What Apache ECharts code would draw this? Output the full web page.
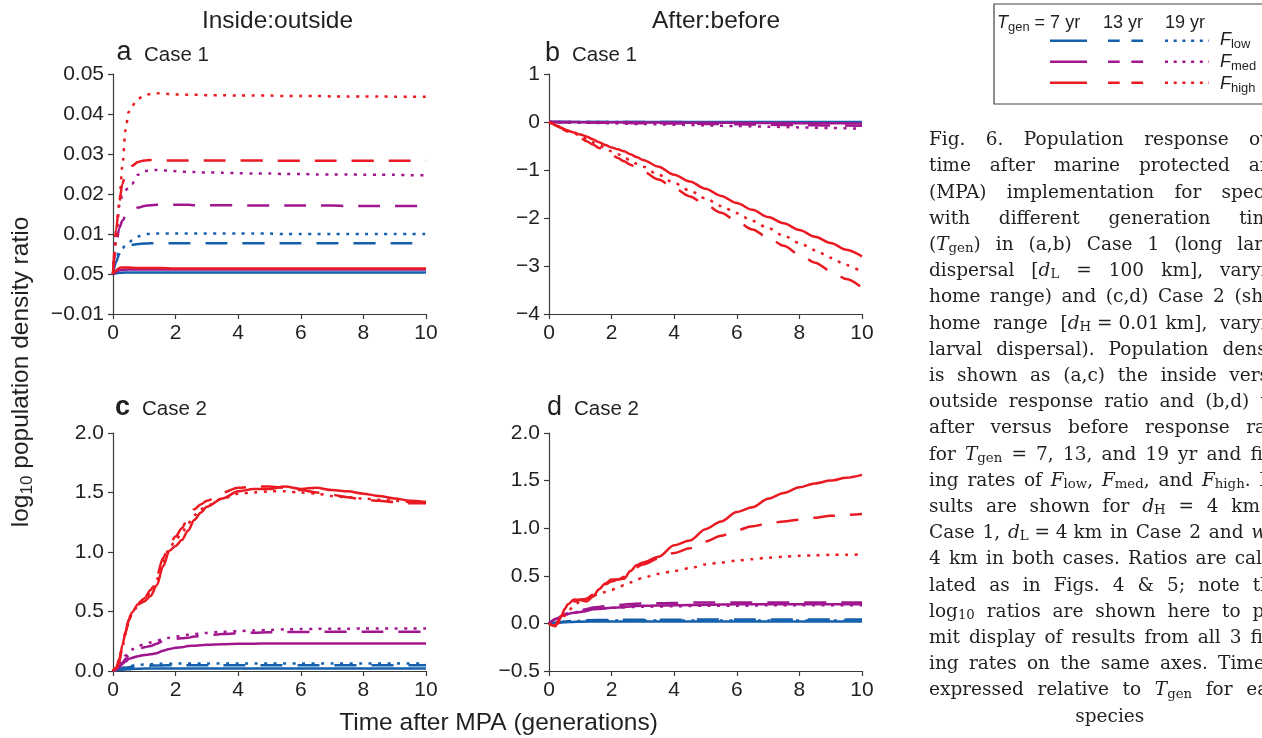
<!DOCTYPE html>
<html>
<head>
<meta charset="utf-8">
<script src="https://cdn.jsdelivr.net/npm/echarts@6/dist/echarts.min.js"></script>
<style>
  html, body { margin: 0; padding: 0; background: #ffffff; }
  #chart { width: 1262px; height: 738px; }
</style>
</head>
<body>
<div id="chart"></div>
<script>
// ---- time grids (generations after MPA) ----
const tFine = [0, 0.1, 0.2, 0.3, 0.4, 0.5, 0.6, 0.8, 1, 1.2, 1.4, 1.6, 1.8, 2, 2.2, 2.4, 2.6, 2.8, 3, 3.5, 4, 4.5, 5, 5.5, 6, 6.5, 7, 7.5, 8, 8.5, 9, 9.5, 10];
const tCoarse = [0, 0.25, 0.5, 0.75, 1, 1.5, 2, 3, 4, 5, 6, 7, 8, 9, 10];
const xTicks = ['0', '2', '4', '6', '8', '10'];

// ---- (a) Case 1, inside:outside ----
const aTickLabels = ['\u22120.01', '0.05', '0.01', '0.02', '0.03', '0.04', '0.05'];
const aLow7 = [0, 0.0003, 0.0004, 0.0004, 0.0004, 0.0004, 0.0004, 0.0004, 0.0004, 0.0004, 0.0004, 0.0004, 0.0004, 0.0004, 0.0004];
const aLow13 = [0, 0.003, 0.005, 0.006, 0.0067, 0.0071, 0.0073, 0.0075, 0.0076, 0.0077, 0.0077, 0.0077, 0.0077, 0.0077, 0.0077, 0.0077, 0.0077, 0.0077, 0.0077, 0.0077, 0.0077, 0.0077, 0.0077, 0.0077, 0.0077, 0.0077, 0.0077, 0.0077, 0.0077, 0.0077, 0.0077, 0.0077, 0.0077];
const aLow19 = [0, 0.004, 0.0055, 0.0064, 0.0072, 0.0078, 0.0084, 0.0094, 0.0099, 0.0101, 0.0101, 0.0101, 0.0101, 0.0101, 0.0101, 0.0101, 0.0101, 0.0101, 0.0101, 0.0101, 0.0101, 0.0101, 0.0101, 0.01, 0.01, 0.01, 0.01, 0.01, 0.01, 0.01, 0.01, 0.01, 0.01];
const aMed7 = [0, 0.001, 0.0011, 0.0011, 0.0011, 0.0011, 0.0011, 0.0011, 0.0011, 0.0011, 0.0011, 0.0011, 0.0011, 0.0011, 0.0011];
const aMed13 = [0, 0.007, 0.0115, 0.0133, 0.0145, 0.0153, 0.0158, 0.0166, 0.017, 0.0172, 0.0173, 0.0173, 0.0173, 0.0173, 0.0173, 0.0173, 0.0172, 0.0172, 0.0172, 0.0172, 0.0172, 0.0171, 0.0171, 0.0171, 0.0171, 0.0171, 0.0171, 0.017, 0.017, 0.017, 0.017, 0.017, 0.017];
const aMed19 = [0, 0.01, 0.017, 0.0195, 0.021, 0.0215, 0.0225, 0.0248, 0.0257, 0.026, 0.026, 0.0259, 0.0258, 0.0257, 0.0256, 0.0255, 0.0255, 0.0254, 0.0254, 0.0253, 0.0252, 0.0251, 0.0251, 0.025, 0.025, 0.0249, 0.0249, 0.0249, 0.0248, 0.0248, 0.0248, 0.0247, 0.0247];
const aHigh7 = [0, 0.0016, 0.0016, 0.0015, 0.0015, 0.0015, 0.0014, 0.0014, 0.0014, 0.0014, 0.0014, 0.0014, 0.0014, 0.0014, 0.0014];
const aHigh13 = [0, 0.011, 0.018, 0.0225, 0.025, 0.026, 0.027, 0.028, 0.0284, 0.0285, 0.0285, 0.0284, 0.0284, 0.0284, 0.0284, 0.0284, 0.0284, 0.0284, 0.0284, 0.0284, 0.0284, 0.0284, 0.0283, 0.0283, 0.0283, 0.0283, 0.0283, 0.0283, 0.0283, 0.0283, 0.0283, 0.0283, 0.0283];
const aHigh19 = [0, 0.008, 0.018, 0.027, 0.036, 0.0405, 0.042, 0.0438, 0.0447, 0.045, 0.0452, 0.0451, 0.045, 0.0449, 0.0449, 0.0448, 0.0448, 0.0448, 0.0447, 0.0447, 0.0446, 0.0446, 0.0446, 0.0445, 0.0445, 0.0445, 0.0444, 0.0444, 0.0444, 0.0444, 0.0443, 0.0443, 0.0443];

// ---- (b) Case 1, after:before ----
const bTickLabels = ['\u22124', '\u22123', '\u22122', '\u22121', '0', '1'];
const bLow7 = [0, 0, 0, 0, 0, 0, 0, 0, 0, 0, 0, 0, 0, 0, 0];
const bLow13 = [0, 0, 0, 0, -0.001, -0.001, -0.001, -0.002, -0.002, -0.003, -0.003, -0.004, -0.004, -0.005, -0.005];
const bLow19 = [0, 0, -0.001, -0.001, -0.001, -0.002, -0.002, -0.003, -0.004, -0.005, -0.006, -0.007, -0.008, -0.009, -0.01];
const bMed7 = [0, -0.001, -0.001, -0.002, -0.003, -0.004, -0.006, -0.009, -0.012, -0.015, -0.018, -0.021, -0.024, -0.027, -0.03];
const bMed13 = [0, -0.002, -0.004, -0.006, -0.008, -0.012, -0.016, -0.024, -0.032, -0.04, -0.048, -0.056, -0.064, -0.072, -0.08];
const bMed19 = [0, -0.004, -0.007, -0.011, -0.014, -0.021, -0.028, -0.042, -0.056, -0.07, -0.084, -0.098, -0.112, -0.126, -0.14];
const bHigh7 = [0, -0.03, -0.06, -0.09, -0.12, -0.15, -0.18, -0.22, -0.26, -0.30, -0.36, -0.42, -0.48, -0.53, -0.57, -0.61, -0.67, -0.73, -0.79, -0.93, -1.10, -1.24, -1.39, -1.54, -1.69, -1.83, -1.98, -2.11, -2.25, -2.39, -2.52, -2.66, -2.80];
const bHigh13 = [0, -0.03, -0.07, -0.10, -0.13, -0.17, -0.20, -0.27, -0.33, -0.40, -0.47, -0.54, -0.61, -0.68, -0.75, -0.82, -0.89, -0.96, -1.03, -1.20, -1.38, -1.55, -1.72, -1.89, -2.07, -2.24, -2.41, -2.58, -2.76, -2.93, -3.10, -3.27, -3.45];
const bHigh19 = [0, -0.03, -0.06, -0.09, -0.12, -0.15, -0.18, -0.24, -0.29, -0.35, -0.42, -0.48, -0.55, -0.61, -0.67, -0.74, -0.80, -0.87, -0.93, -1.10, -1.27, -1.43, -1.59, -1.75, -1.90, -2.06, -2.21, -2.37, -2.52, -2.67, -2.83, -2.98, -3.13];

// ---- (c) Case 2, inside:outside ----
const cTickLabels = ['0.0', '0.5', '1.0', '1.5', '2.0'];
const cLow7 = [0, 0.01, 0.015, 0.018, 0.02, 0.021, 0.022, 0.022, 0.022, 0.022, 0.022, 0.022, 0.022, 0.022, 0.022];
const cLow13 = [0, 0.02, 0.032, 0.04, 0.044, 0.047, 0.048, 0.048, 0.048, 0.048, 0.048, 0.048, 0.048, 0.048, 0.048];
const cLow19 = [0, 0.025, 0.04, 0.05, 0.055, 0.06, 0.062, 0.063, 0.063, 0.063, 0.063, 0.063, 0.063, 0.063, 0.063];
const cMed7 = [0, 0.01, 0.03, 0.06, 0.08, 0.1, 0.11, 0.125, 0.135, 0.14, 0.15, 0.17, 0.185, 0.195, 0.2, 0.21, 0.213, 0.216, 0.22, 0.225, 0.228, 0.23, 0.231, 0.232, 0.232, 0.232, 0.232, 0.232, 0.232, 0.232, 0.232, 0.232, 0.232];
const cMed13 = [0, 0.015, 0.04, 0.07, 0.1, 0.13, 0.15, 0.18, 0.2, 0.21, 0.23, 0.25, 0.26, 0.27, 0.275, 0.28, 0.29, 0.295, 0.3, 0.31, 0.318, 0.322, 0.325, 0.327, 0.328, 0.329, 0.33, 0.33, 0.33, 0.33, 0.33, 0.33, 0.33];
const cMed19 = [0, 0.02, 0.05, 0.09, 0.13, 0.16, 0.18, 0.21, 0.225, 0.24, 0.255, 0.265, 0.28, 0.29, 0.295, 0.305, 0.31, 0.315, 0.32, 0.33, 0.335, 0.34, 0.345, 0.35, 0.352, 0.354, 0.355, 0.356, 0.357, 0.357, 0.358, 0.358, 0.358];
const cHigh7 = [0, 0.02, 0.07, 0.22, 0.32, 0.42, 0.49, 0.56, 0.585, 0.63, 0.72, 0.88, 1.01, 1.05, 1.10, 1.18, 1.27, 1.33, 1.38, 1.45, 1.51, 1.53, 1.53, 1.55, 1.53, 1.54, 1.52, 1.51, 1.49, 1.47, 1.45, 1.43, 1.42];
const cHigh13 = [0, 0.03, 0.10, 0.22, 0.33, 0.43, 0.5, 0.57, 0.61, 0.68, 0.8, 0.95, 1.06, 1.13, 1.2, 1.29, 1.36, 1.40, 1.43, 1.50, 1.54, 1.55, 1.55, 1.54, 1.52, 1.50, 1.48, 1.46, 1.44, 1.43, 1.42, 1.41, 1.41];
const cHigh19 = [0, 0.03, 0.09, 0.2, 0.31, 0.41, 0.48, 0.55, 0.6, 0.66, 0.77, 0.92, 1.03, 1.1, 1.16, 1.24, 1.31, 1.36, 1.39, 1.45, 1.49, 1.5, 1.51, 1.51, 1.5, 1.49, 1.47, 1.46, 1.45, 1.44, 1.43, 1.42, 1.42];

// ---- (d) Case 2, after:before ----
const dTickLabels = ['\u22120.5', '0.0', '0.5', '1.0', '1.5', '2.0'];
const dLow7 = [0, 0.005, 0.012, 0.016, 0.018, 0.02, 0.02, 0.02, 0.02, 0.02, 0.02, 0.02, 0.02, 0.02, 0.02];
const dLow13 = [0, 0.01, 0.02, 0.027, 0.03, 0.035, 0.037, 0.038, 0.039, 0.04, 0.04, 0.04, 0.04, 0.04, 0.04];
const dLow19 = [0, 0.008, 0.016, 0.022, 0.025, 0.028, 0.03, 0.03, 0.03, 0.03, 0.03, 0.03, 0.03, 0.03, 0.03];
const dMed7 = [0, 0.05, 0.09, 0.11, 0.12, 0.15, 0.165, 0.185, 0.19, 0.195, 0.2, 0.2, 0.2, 0.2, 0.2];
const dMed13 = [0, 0.05, 0.1, 0.12, 0.14, 0.17, 0.19, 0.21, 0.215, 0.22, 0.22, 0.22, 0.22, 0.22, 0.22];
const dMed19 = [0, 0.05, 0.09, 0.11, 0.125, 0.15, 0.165, 0.175, 0.18, 0.185, 0.185, 0.19, 0.19, 0.19, 0.19];
const dHigh7 = [0, -0.02, -0.03, 0.02, 0.08, 0.15, 0.2, 0.25, 0.245, 0.23, 0.28, 0.36, 0.42, 0.46, 0.46, 0.47, 0.55, 0.61, 0.64, 0.70, 0.82, 0.87, 0.99, 1.07, 1.17, 1.22, 1.31, 1.37, 1.43, 1.47, 1.5, 1.53, 1.56];
const dHigh13 = [0, -0.02, -0.02, 0.03, 0.08, 0.14, 0.18, 0.23, 0.25, 0.26, 0.3, 0.36, 0.41, 0.44, 0.46, 0.49, 0.54, 0.59, 0.62, 0.68, 0.74, 0.79, 0.86, 0.92, 0.98, 1.02, 1.05, 1.07, 1.09, 1.11, 1.13, 1.14, 1.15];
const dHigh19 = [0, -0.02, -0.02, 0.0, 0.03, 0.08, 0.12, 0.19, 0.23, 0.26, 0.29, 0.31, 0.33, 0.35, 0.38, 0.4, 0.43, 0.46, 0.48, 0.52, 0.55, 0.58, 0.62, 0.64, 0.66, 0.675, 0.69, 0.7, 0.71, 0.715, 0.72, 0.72, 0.725];

// ---- text ----
const headers = ['Inside:outside', 'After:before'];
const panelLetters = ['a', 'b', 'c', 'd'];
const panelCases = ['Case 1', 'Case 1', 'Case 2', 'Case 2'];
const xTitle = 'Time after MPA (generations)';
const yTitle = 'log{s:10} population density ratio';
const legendHead = ['{i:T}{s:gen} = 7 yr', '13 yr', '19 yr'];
const legendRows = ['{i:F}{s:low}', '{i:F}{s:med}', '{i:F}{s:high}'];
const captionLines = [
  'Fig. 6. Population response over',
  'time after marine protected area',
  '(MPA) implementation for species',
  'with different generation times',
  '({i:T}{s:gen}) in (a,b) Case 1 (long larval',
  'dispersal [{i:d}{s:L} = 100 km], varying',
  'home range) and (c,d) Case 2 (short',
  'home range [{i:d}{s:H}~=~0.01~km], varying',
  'larval dispersal). Population density',
  'is shown as (a,c) the inside versus',
  'outside response ratio and (b,d) the',
  'after versus before response ratio',
  'for {i:T}{s:gen} = 7, 13, and 19 yr and fish-',
  'ing rates of {i:F}{s:low}, {i:F}{s:med}, and {i:F}{s:high}. Re-',
  'sults are shown for {i:d}{s:H} = 4 km in',
  'Case 1, {i:d}{s:L}~=~4~km in Case 2 and {i:w} =',
  '4 km in both cases. Ratios are calcu-',
  'lated as in Figs. 4 & 5; note that',
  'log{s:10} ratios are shown here to per-',
  'mit display of results from all 3 fish-',
  'ing rates on the same axes. Time is',
  'expressed relative to {i:T}{s:gen} for each',
  'species'
];

// ---- styling ----
const BLUE = '#1560ad';
const PURPLE = '#a0168f';
const RED = '#ea1a22';
const TXT = '#231f20';
const AXIS = '#3a3a3a';
const SANS = '"Liberation Sans", Arial, Helvetica, sans-serif';
const SERIF = '"DejaVu Serif", serif';
const SOLID = 'solid';
const DASH = [22, 15];
const DOT = [3, 6.5];

const grids = [
  { left: 113, top: 74, width: 313, height: 240 },
  { left: 549, top: 74, width: 313, height: 240 },
  { left: 113, top: 433, width: 313, height: 238 },
  { left: 549, top: 433, width: 313, height: 238 }
];
const yRanges = [
  { min: -0.01, max: 0.05, step: 0.01, labels: aTickLabels },
  { min: -4, max: 1, step: 1, labels: bTickLabels },
  { min: 0, max: 2, step: 0.5, labels: cTickLabels },
  { min: -0.5, max: 2, step: 0.5, labels: dTickLabels }
];

function pairs(t, v) { return t.map((x, i) => [x, v[i]]); }
function lineSeries(gi, t, v, color, dash) {
  return {
    type: 'line', xAxisIndex: gi, yAxisIndex: gi,
    data: pairs(t, v), showSymbol: false, symbol: 'none',
    smooth: 0.3, smoothMonotone: 'x', silent: true,
    lineStyle: { color: color, width: 2.5, type: dash, cap: 'butt', join: 'round' }
  };
}

const series = [
  // a
  lineSeries(0, tCoarse, aLow7, BLUE, SOLID), lineSeries(0, tFine, aLow13, BLUE, DASH), lineSeries(0, tFine, aLow19, BLUE, DOT),
  lineSeries(0, tFine, aMed13, PURPLE, DASH), lineSeries(0, tFine, aMed19, PURPLE, DOT), lineSeries(0, tCoarse, aMed7, PURPLE, SOLID),
  lineSeries(0, tFine, aHigh13, RED, DASH), lineSeries(0, tFine, aHigh19, RED, DOT), lineSeries(0, tCoarse, aHigh7, RED, SOLID),
  // b
  lineSeries(1, tCoarse, bLow7, BLUE, SOLID), lineSeries(1, tCoarse, bLow13, BLUE, DASH), lineSeries(1, tCoarse, bLow19, BLUE, DOT),
  lineSeries(1, tCoarse, bMed19, PURPLE, DOT), lineSeries(1, tCoarse, bMed13, PURPLE, DASH), lineSeries(1, tCoarse, bMed7, PURPLE, SOLID),
  lineSeries(1, tFine, bHigh13, RED, DASH), lineSeries(1, tFine, bHigh19, RED, DOT), lineSeries(1, tFine, bHigh7, RED, SOLID),
  // c
  lineSeries(2, tCoarse, cLow7, BLUE, SOLID), lineSeries(2, tCoarse, cLow13, BLUE, DASH), lineSeries(2, tCoarse, cLow19, BLUE, DOT),
  lineSeries(2, tFine, cMed7, PURPLE, SOLID), lineSeries(2, tFine, cMed13, PURPLE, DASH), lineSeries(2, tFine, cMed19, PURPLE, DOT),
  lineSeries(2, tFine, cHigh13, RED, DASH), lineSeries(2, tFine, cHigh19, RED, DOT), lineSeries(2, tFine, cHigh7, RED, SOLID),
  // d
  lineSeries(3, tCoarse, dLow7, BLUE, SOLID), lineSeries(3, tCoarse, dLow13, BLUE, DASH), lineSeries(3, tCoarse, dLow19, BLUE, DOT),
  lineSeries(3, tCoarse, dMed19, PURPLE, DOT), lineSeries(3, tCoarse, dMed7, PURPLE, SOLID), lineSeries(3, tCoarse, dMed13, PURPLE, DASH),
  lineSeries(3, tFine, dHigh19, RED, DOT), lineSeries(3, tFine, dHigh13, RED, DASH), lineSeries(3, tFine, dHigh7, RED, SOLID)
];

const xAxes = grids.map((g, gi) => ({
  type: 'value', gridIndex: gi, min: 0, max: 10, interval: 2,
  axisLine: { show: true, onZero: false, lineStyle: { color: AXIS, width: 1.2 } },
  axisTick: { show: true, length: 5, lineStyle: { color: AXIS, width: 1.2 } },
  splitLine: { show: false },
  axisLabel: { fontSize: 21, fontFamily: SANS, color: TXT, margin: 9,
    formatter: v => xTicks[Math.round(v / 2)] }
}));
const yAxes = yRanges.map((r, gi) => ({
  type: 'value', gridIndex: gi, min: r.min, max: r.max, interval: r.step,
  axisLine: { show: true, onZero: false, lineStyle: { color: AXIS, width: 1.2 } },
  axisTick: { show: true, length: 5, lineStyle: { color: AXIS, width: 1.2 } },
  splitLine: { show: false },
  axisLabel: { fontSize: 21, fontFamily: SANS, color: TXT, margin: 9,
    formatter: v => r.labels[Math.round((v - r.min) / r.step)] }
}));

// ---- text layout helpers (fragments: italic / subscript) ----
const measureCtx = document.createElement('canvas').getContext('2d');
function fontStr(f) { return (f.italic ? 'italic ' : '') + (f.bold ? 'bold ' : '') + f.size + 'px ' + f.family; }
function measure(text, f) { measureCtx.font = fontStr(f); return measureCtx.measureText(text).width; }
function parseRun(str) {
  const out = []; const re = /\{(i|s):([^}]*)\}|([^{]+)/g; let m;
  while ((m = re.exec(str))) {
    if (m[1] === 'i') out.push({ text: m[2], italic: true });
    else if (m[1] === 's') out.push({ text: m[2], sub: true });
    else out.push({ text: m[3] });
  }
  return out;
}
function pieces(str, base) {
  return parseRun(str).map(fr => {
    const f = { family: base.family, size: fr.sub ? base.size * base.subScale : base.size, italic: !!fr.italic, bold: !!base.bold };
    return { text: fr.text, font: f, w: measure(fr.text, f), dy: fr.sub ? base.size * base.subDrop : 0 };
  });
}
function runWidth(ps) { return ps.reduce((s, p) => s + p.w, 0); }
function place(ps, x, yMid, color, out) {
  let cx = x;
  ps.forEach(p => {
    out.push({ type: 'text', x: cx, y: yMid + p.dy, silent: true,
      style: { text: p.text, font: fontStr(p.font), fill: color,
        textAlign: 'left', textVerticalAlign: 'middle', align: 'left', verticalAlign: 'middle' } });
    cx += p.w;
  });
  return cx;
}
// baseline -> middle of em box
function mid(baseline, size) { return baseline - 0.346 * size; }

const G = [];

// column headers and axis titles
const HEAD = { family: SANS, size: 24.5, subScale: 0.7, subDrop: 0.22 };
[[headers[0], 277.5], [headers[1], 716]].forEach(([s, cx]) => {
  const ps = pieces(s, HEAD); place(ps, cx - runWidth(ps) / 2, mid(29.3, HEAD.size), TXT, G);
});
{
  const ps = pieces(xTitle, HEAD); place(ps, 498.5 - runWidth(ps) / 2, mid(731.5, HEAD.size), TXT, G);
}
{
  const ps = pieces(yTitle, HEAD); const kids = [];
  place(ps, -runWidth(ps) / 2, 0, TXT, kids);
  G.push({ type: 'group', x: 21.5, y: 372, rotation: Math.PI / 2, children: kids });
}

// panel letters and case labels
const letterPos = [[116.5, 144, 62], [545, 572, 62.5], [115, 142, 416.7], [547, 574, 416.5]];
letterPos.forEach(([lx, cx, base], i) => {
  const L = { family: SANS, size: 27, bold: i === 2 };
  place(pieces(panelLetters[i], L), lx, mid(base, 27), TXT, G);
  place(pieces(panelCases[i], { family: SANS, size: 20.5 }), cx, mid(base, 20.5), TXT, G);
});

// legend box
G.push({ type: 'rect', silent: true, shape: { x: 994, y: 4, width: 320, height: 100 },
  style: { fill: '#ffffff', stroke: '#444444', lineWidth: 1.2 } });
const LEG = { family: SANS, size: 18, subScale: 0.72, subDrop: 0.22 };
[[legendHead[0], 997], [legendHead[1], 1103], [legendHead[2], 1165]].forEach(([s, x]) => {
  place(pieces(s, LEG), x, mid(29.3, LEG.size), TXT, G);
});
const legColors = [BLUE, PURPLE, RED];
const legY = [40.7, 61.7, 82.7];
const legBase = [46.7, 68.5, 90.5];
legColors.forEach((c, i) => {
  const y = legY[i];
  [[1050, 1087, null], [1108, 1143.5, [11.7, 11.7]], [1165, 1209, [3, 5.7]]].forEach(([x1, x2, dash]) => {
    G.push({ type: 'line', silent: true, shape: { x1: x1, y1: y, x2: x2, y2: y },
      style: { stroke: c, lineWidth: 2.6, lineDash: dash, lineCap: 'butt' } });
  });
  place(pieces(legendRows[i], LEG), 1220, mid(legBase[i], LEG.size), TXT, G);
});

// caption (justified column)
const CAP = { family: SERIF, size: 18.5, subScale: 0.72, subDrop: 0.2 };
const COL_L = 929, COL_R = 1290.5, LINE0 = 146.7, LEAD = 26.2;
captionLines.forEach((ln, i) => {
  const yMid = mid(LINE0 + LEAD * i, CAP.size);
  const words = ln.split(' ').map(w => pieces(w.replace(/~/g, ' '), CAP));
  const widths = words.map(runWidth);
  if (i === captionLines.length - 1) {
    const tot = widths.reduce((a, b) => a + b, 0);
    place(words[0], (COL_L + COL_R) / 2 - tot / 2, yMid, TXT, G);
  } else {
    const tot = widths.reduce((a, b) => a + b, 0);
    const gap = (COL_R - COL_L - tot) / (words.length - 1);
    let x = COL_L;
    words.forEach((ws, k) => { place(ws, x, yMid, TXT, G); x += widths[k] + gap; });
  }
});

const chart = echarts.init(document.getElementById('chart'), null, { renderer: 'canvas' });
chart.setOption({
  backgroundColor: '#ffffff',
  animation: false,
  grid: grids,
  xAxis: xAxes,
  yAxis: yAxes,
  series: series,
  graphic: { elements: G }
});
</script>
</body>
</html>
